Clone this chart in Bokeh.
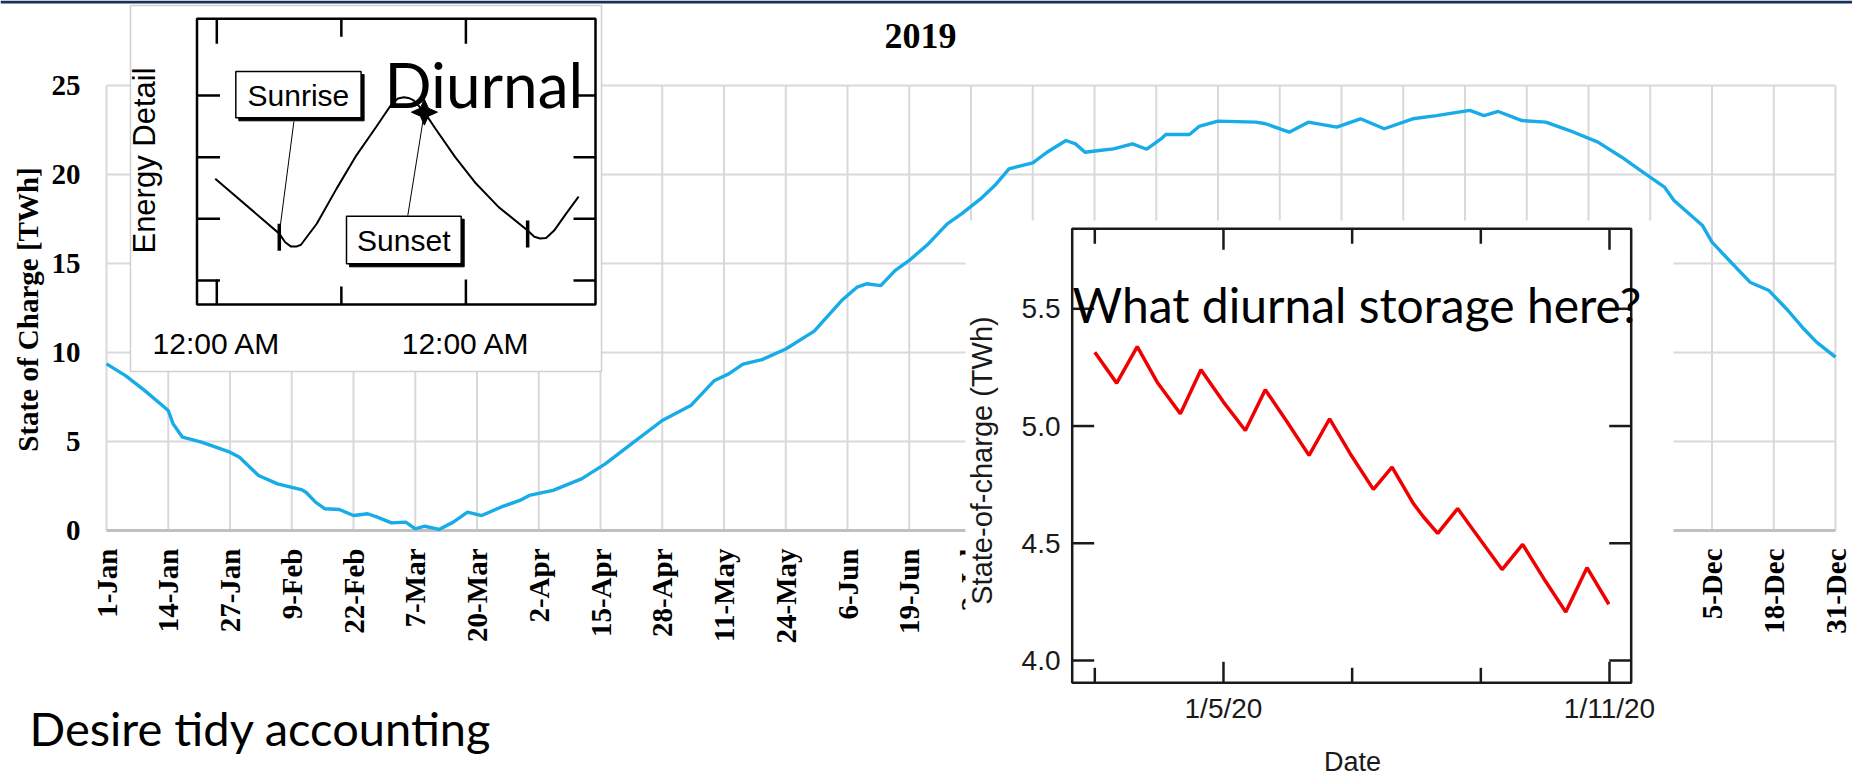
import math
from bokeh.plotting import figure
from bokeh.models import Range1d
from bokeh.embed import file_html
from bokeh.resources import INLINE
from bokeh.core.properties import value

# ---------------- data: main 2019 state-of-charge chart ----------------
month_tick_days = [0, 13, 26, 39, 52, 65, 78, 91, 104, 117, 130, 143, 156, 169, 182,
                   195, 208, 221, 234, 247, 260, 273, 286, 299, 312, 325, 338, 351, 364]
month_tick_labels = ["1-Jan", "14-Jan", "27-Jan", "9-Feb", "22-Feb", "7-Mar", "20-Mar",
                     "2-Apr", "15-Apr", "28-Apr", "11-May", "24-May", "6-Jun", "19-Jun",
                     "2-Jul", "15-Jul", "28-Jul", "10-Aug", "23-Aug", "5-Sep", "18-Sep",
                     "1-Oct", "14-Oct", "27-Oct", "9-Nov", "22-Nov", "5-Dec", "18-Dec", "31-Dec"]
twh_ticks = [0, 5, 10, 15, 20, 25]
twh_tick_labels = ["0", "5", "10", "15", "20", "25"]
soc_days = [0, 4, 8, 13, 14, 16, 20, 26, 28, 32, 36, 41, 42, 44, 46, 49, 52, 55, 57, 60,
            63, 65, 67, 70, 73, 76, 79, 83, 87, 89, 94, 100, 105, 111, 117, 123, 128, 131, 134, 138,
            143, 149, 155, 158, 160, 163, 166, 169, 173, 177, 180, 184, 187, 190, 195, 198, 202, 204, 206, 209,
            212, 216, 219, 222, 223, 228, 230, 234, 242, 244, 249, 253, 259, 264, 269, 275, 280, 287, 290, 293,
            298, 303, 308, 314, 319, 323, 328, 330, 336, 338, 342, 346, 350, 354, 357, 360, 364]
soc_twh = [9.36, 8.70, 7.87, 6.74, 6.00, 5.24, 4.96, 4.40, 4.12, 3.09, 2.62, 2.30, 2.15, 1.59, 1.22, 1.18, 0.84, 0.94, 0.75, 0.43,
           0.47, 0.09, 0.24, 0.06, 0.47, 1.03, 0.84, 1.31, 1.69, 1.97, 2.25, 2.90, 3.74, 4.96, 6.18, 7.02, 8.43, 8.80, 9.35, 9.60,
           10.20, 11.20, 12.98, 13.67, 13.86, 13.76, 14.60, 15.17, 16.10, 17.23, 17.79, 18.63, 19.38, 20.32, 20.65, 21.25, 21.91, 21.72, 21.25, 21.35,
           21.44, 21.72, 21.42, 22.00, 22.25, 22.25, 22.70, 23.00, 22.94, 22.85, 22.38, 22.94, 22.66, 23.13, 22.57, 23.13, 23.31, 23.60, 23.31, 23.54,
           23.03, 22.94, 22.47, 21.82, 20.97, 20.22, 19.29, 18.54, 17.13, 16.20, 15.07, 13.95, 13.48, 12.36, 11.42, 10.58, 9.74]

# ---------------- data: "Diurnal" inset ----------------
diurnal_hours = [-0.15, 6.02, 6.59, 7.16, 7.66, 8.11, 9.63, 11.54, 13.45, 15.35, 16.88, 17.45, 18.02, 18.47, 18.97,
                 20.0, 21.07, 22.97, 24.88, 27.16, 29.95, 30.59, 31.16, 31.73, 32.5, 33.64, 34.86]
diurnal_energy = [2.65, 1.76, 1.62, 1.55, 1.55, 1.58, 1.92, 2.49, 3.03, 3.49, 3.87, 3.95, 3.97, 3.96, 3.92,
                  3.73, 3.46, 3.00, 2.59, 2.19, 1.81, 1.71, 1.68, 1.69, 1.81, 2.08, 2.36]
diurnal_tick_hours = [0, 12, 24]
diurnal_major_hours = [0, 24]
diurnal_hour_labels = ["12:00 AM", "12:00 AM"]
diurnal_energy_ticks = [1, 2, 3, 4]
sunrise_hours = [6.02, 29.95]
sunrise_energy = [1.76, 1.81]
sunset_hour = 20.0
sunset_energy = 3.73

# ---------------- data: January 2020 inset ----------------
jan_days = [3.0, 3.34, 3.66, 3.97, 4.33, 4.65, 5.0, 5.34, 5.65, 5.99, 6.33, 6.65, 6.97,
            7.33, 7.62, 7.95, 8.11, 8.33, 8.64, 9.0, 9.33, 9.65, 9.98, 10.32, 10.65, 10.99]
jan_soc = [5.315, 5.183, 5.339, 5.187, 5.052, 5.24, 5.102, 4.981, 5.155, 5.017, 4.875, 5.031, 4.882,
           4.73, 4.825, 4.67, 4.612, 4.542, 4.648, 4.512, 4.388, 4.495, 4.349, 4.207, 4.396, 4.24]
jan_tick_days = [3, 5, 7, 9, 11]
jan_major_days = [5, 11]
jan_day_labels = ["1/5/20", "1/11/20"]
jan_soc_ticks = [4.0, 4.5, 5.0, 5.5]
jan_soc_labels = ["4.0", "4.5", "5.0", "5.5"]

# ---------------- layout (reference pixels) ----------------
W, H = 1852, 779
OFF = 0


class Map:
    def __init__(self, v0, p0, v1, p1):
        self.v0, self.p0 = v0, p0
        self.k = (p1 - p0) / (v1 - v0)

    def val(self, p):
        return self.v0 + (p - self.p0) / self.k

    def d(self, px):
        return px / abs(self.k)


mx, my = Map(0, 106, 364, 1835), Map(0, 530, 25, 85)
ix, iy = Map(0, 216.3, 24, 465.4), Map(1, 280, 4, 95)
jx, jy = Map(3, 1094.3, 11, 1609), Map(4.0, 660, 5.5, 308.3)


def xr(m):
    return Range1d(start=m.val(OFF), end=m.val(OFF + W))


def yr(m):
    return Range1d(start=m.val(OFF + H), end=m.val(OFF))


p = figure(width=W, height=H, output_backend="svg", toolbar_location=None,
           x_axis_location=None, y_axis_location=None,
           x_range=xr(mx), y_range=yr(my), min_border=0)
p.min_border_left = p.min_border_right = p.min_border_top = p.min_border_bottom = 0
p.outline_line_color = None
p.background_fill_color = "white"
p.border_fill_color = "white"
for g in p.grid:
    g.visible = False
p.extra_x_ranges = {"ix": xr(ix), "jx": xr(jx)}
p.extra_y_ranges = {"iy": yr(iy), "jy": yr(jy)}

SERIF = "Liberation Serif"
SANS = "Liberation Sans"
SLIDE = "Lato"


def txt(x, y, t, font, size, xn="default", yn="default", **kw):
    p.text(x=x, y=y, text=t, text_font=value(font), text_font_size=value(f"{size}px"),
           x_range_name=xn, y_range_name=yn, **kw)


# ---------------- main chart ----------------
GRID = "#d9d9d9"
n = len(month_tick_days)
p.segment(x0=[month_tick_days[0]] * 5, x1=[month_tick_days[-1]] * 5, y0=twh_ticks[1:], y1=twh_ticks[1:],
          line_color=GRID, line_width=2)
p.segment(x0=month_tick_days, x1=month_tick_days, y0=[twh_ticks[0]] * n, y1=[twh_ticks[-1]] * n,
          line_color=GRID, line_width=2)
p.segment(x0=[month_tick_days[0]], x1=[month_tick_days[-1]], y0=[twh_ticks[0]], y1=[twh_ticks[0]],
          line_color="#c0c0c0", line_width=3)
p.line(soc_days, soc_twh, line_color="#17abe8", line_width=3.4)

txt([mx.val(80)] * len(twh_ticks), twh_ticks, twh_tick_labels, SERIF, 29,
    text_font_style="bold", text_align="right", text_baseline="middle", text_color="black")
txt(month_tick_days, [my.val(548)] * n, month_tick_labels, SERIF, 29,
    text_font_style="bold", text_align="right", text_baseline="middle", angle=math.pi / 2,
    text_color="black")
txt([mx.val(27.5)], [my.val(309)], ["State of Charge [TWh]"], SERIF, 29,
    text_font_style="bold", text_align="center", text_baseline="middle", angle=math.pi / 2,
    text_color="black")
txt([mx.val(920)], [my.val(35.5)], ["2019"], SERIF, 36,
    text_font_style="bold", text_align="center", text_baseline="middle", text_color="black")

# ---------------- Diurnal inset ----------------
I = dict(x_range_name="ix", y_range_name="iy")
p.quad(left=[ix.val(130)], right=[ix.val(601)], top=[iy.val(5)], bottom=[iy.val(371)],
       fill_color="white", line_color="#d0d0d0", line_width=1.5, **I)
fl, fr, ft, fb = ix.val(196.5), ix.val(595), iy.val(18.3), iy.val(304)
p.quad(left=[fl], right=[fr], top=[ft], bottom=[fb], fill_color=None, line_color="black",
       line_width=2.5, **I)
tl = [iy.d(25) if h in diurnal_major_hours else iy.d(18) for h in diurnal_tick_hours]
p.segment(x0=diurnal_tick_hours, x1=diurnal_tick_hours, y0=[ft] * 3, y1=[ft - t for t in tl],
          line_color="black", line_width=2.5, **I)
p.segment(x0=diurnal_tick_hours, x1=diurnal_tick_hours, y0=[fb] * 3, y1=[fb + t for t in tl],
          line_color="black", line_width=2.5, **I)
ne = len(diurnal_energy_ticks)
p.segment(x0=[fl] * ne, x1=[fl + ix.d(23)] * ne, y0=diurnal_energy_ticks, y1=diurnal_energy_ticks,
          line_color="black", line_width=2.5, **I)
p.segment(x0=[fr] * ne, x1=[fr - ix.d(22)] * ne, y0=diurnal_energy_ticks, y1=diurnal_energy_ticks,
          line_color="black", line_width=2.5, **I)
p.line(diurnal_hours, diurnal_energy, line_color="black", line_width=2, **I)
p.segment(x0=sunrise_hours, x1=sunrise_hours,
          y0=[e + iy.d(10) for e in sunrise_energy], y1=[e - iy.d(17) for e in sunrise_energy],
          line_color="black", line_width=3.5, **I)
# four-pointed star at sunset
so, si = 13, 4
star = [(0, so), (si, si), (so, 0), (si, -si), (0, -so), (-si, -si), (-so, 0), (-si, si)]
p.patch([sunset_hour + ix.d(dx) if dx >= 0 else sunset_hour - ix.d(-dx) for dx, dy in star],
        [sunset_energy + iy.d(dy) if dy >= 0 else sunset_energy - iy.d(-dy) for dx, dy in star],
        fill_color="black", line_color="black", **I)


def callout(l, r, t, b, label, cx, cy):
    p.quad(left=[ix.val(l + 3)], right=[ix.val(r + 3)], top=[iy.val(t + 3)], bottom=[iy.val(b + 3)],
           fill_color="black", line_color="black", **I)
    p.quad(left=[ix.val(l)], right=[ix.val(r)], top=[iy.val(t)], bottom=[iy.val(b)],
           fill_color="white", line_color="black", line_width=1.5, **I)
    txt([ix.val(cx)], [iy.val(cy)], [label], SANS, 30, "ix", "iy",
        text_align="center", text_baseline="middle", text_color="black")


p.segment(x0=[ix.val(293.4)], y0=[iy.val(121)], x1=[sunrise_hours[0]], y1=[sunrise_energy[0]],
          line_color="black", line_width=1, **I)
p.segment(x0=[ix.val(407.3)], y0=[iy.val(215)], x1=[sunset_hour], y1=[sunset_energy],
          line_color="black", line_width=1, **I)
callout(235.3, 360.6, 71, 117.3, "Sunrise", 297.9, 94.5)
callout(346, 460.7, 215.7, 263.3, "Sunset", 403.3, 239.5)

txt(diurnal_major_hours, [iy.val(343.3)] * 2, diurnal_hour_labels, SANS, 30, "ix", "iy",
    text_align="center", text_baseline="alphabetic", text_color="black")
txt([ix.val(144)], [iy.val(160)], ["Energy Detail"], SANS, 31, "ix", "iy",
    text_align="center", text_baseline="middle", angle=math.pi / 2, text_color="black")
txt([ix.val(384)], [iy.val(83.3)], ["Diurnal"], SLIDE, 62, "ix", "iy",
    text_align="left", text_baseline="alphabetic", text_color="black")

# ---------------- January 2020 inset ----------------
J = dict(x_range_name="jx", y_range_name="jy")
p.quad(left=[jx.val(965)], right=[jx.val(1673)], top=[jy.val(220)], bottom=[jy.val(800)],
       fill_color="white", line_color=None, **J)
gl, gr, gt, gb = jx.val(1071.7), jx.val(1630.7), jy.val(228.3), jy.val(682.3)
p.quad(left=[gl], right=[gr], top=[gt], bottom=[gb], fill_color=None, line_color="#1a1a1a",
       line_width=2.5, **J)
jl = [jy.d(21) if d in jan_major_days else jy.d(15) for d in jan_tick_days]
nt = len(jan_tick_days)
p.segment(x0=jan_tick_days, x1=jan_tick_days, y0=[gt] * nt, y1=[gt - t for t in jl],
          line_color="#1a1a1a", line_width=2.5, **J)
p.segment(x0=jan_tick_days, x1=jan_tick_days, y0=[gb] * nt, y1=[gb + t for t in jl],
          line_color="#1a1a1a", line_width=2.5, **J)
ns = len(jan_soc_ticks)
p.segment(x0=[gl] * ns, x1=[gl + jx.d(22)] * ns, y0=jan_soc_ticks, y1=jan_soc_ticks,
          line_color="#1a1a1a", line_width=2.5, **J)
p.segment(x0=[gr] * ns, x1=[gr - jx.d(22)] * ns, y0=jan_soc_ticks, y1=jan_soc_ticks,
          line_color="#1a1a1a", line_width=2.5, **J)
p.line(jan_days, jan_soc, line_color="#f00000", line_width=3.5, **J)

txt([jx.val(1060)] * ns, jan_soc_ticks, jan_soc_labels, SANS, 28, "jx", "jy",
    text_align="right", text_baseline="middle", text_color="#1a1a1a")
txt(jan_major_days, [jy.val(708)] * 2, jan_day_labels, SANS, 28, "jx", "jy",
    text_align="center", text_baseline="middle", text_color="#1a1a1a")
txt([jx.val(1352)], [jy.val(761)], ["Date"], SANS, 27, "jx", "jy",
    text_align="center", text_baseline="middle", text_color="#1a1a1a")
txt([jx.val(981)], [jy.val(460)], ["State-of-charge (TWh)"], SANS, 29, "jx", "jy",
    text_align="center", text_baseline="middle", angle=math.pi / 2, text_color="#1a1a1a")
txt([jx.val(1072)], [jy.val(304)], ["What diurnal storage here?"], SLIDE, 48, "jx", "jy",
    text_align="left", text_baseline="alphabetic", text_color="black")

# ---------------- slide caption and top rule ----------------
txt([mx.val(29)], [my.val(727)], ["Desire tidy accounting"], SLIDE, 47,
    text_align="left", text_baseline="alphabetic", text_color="black")
p.quad(left=[mx.val(0)], right=[mx.val(W)], top=[my.val(0)], bottom=[my.val(3)],
       fill_color="#17325a", line_color=None)

open("out.html", "w").write(file_html(p, INLINE))
